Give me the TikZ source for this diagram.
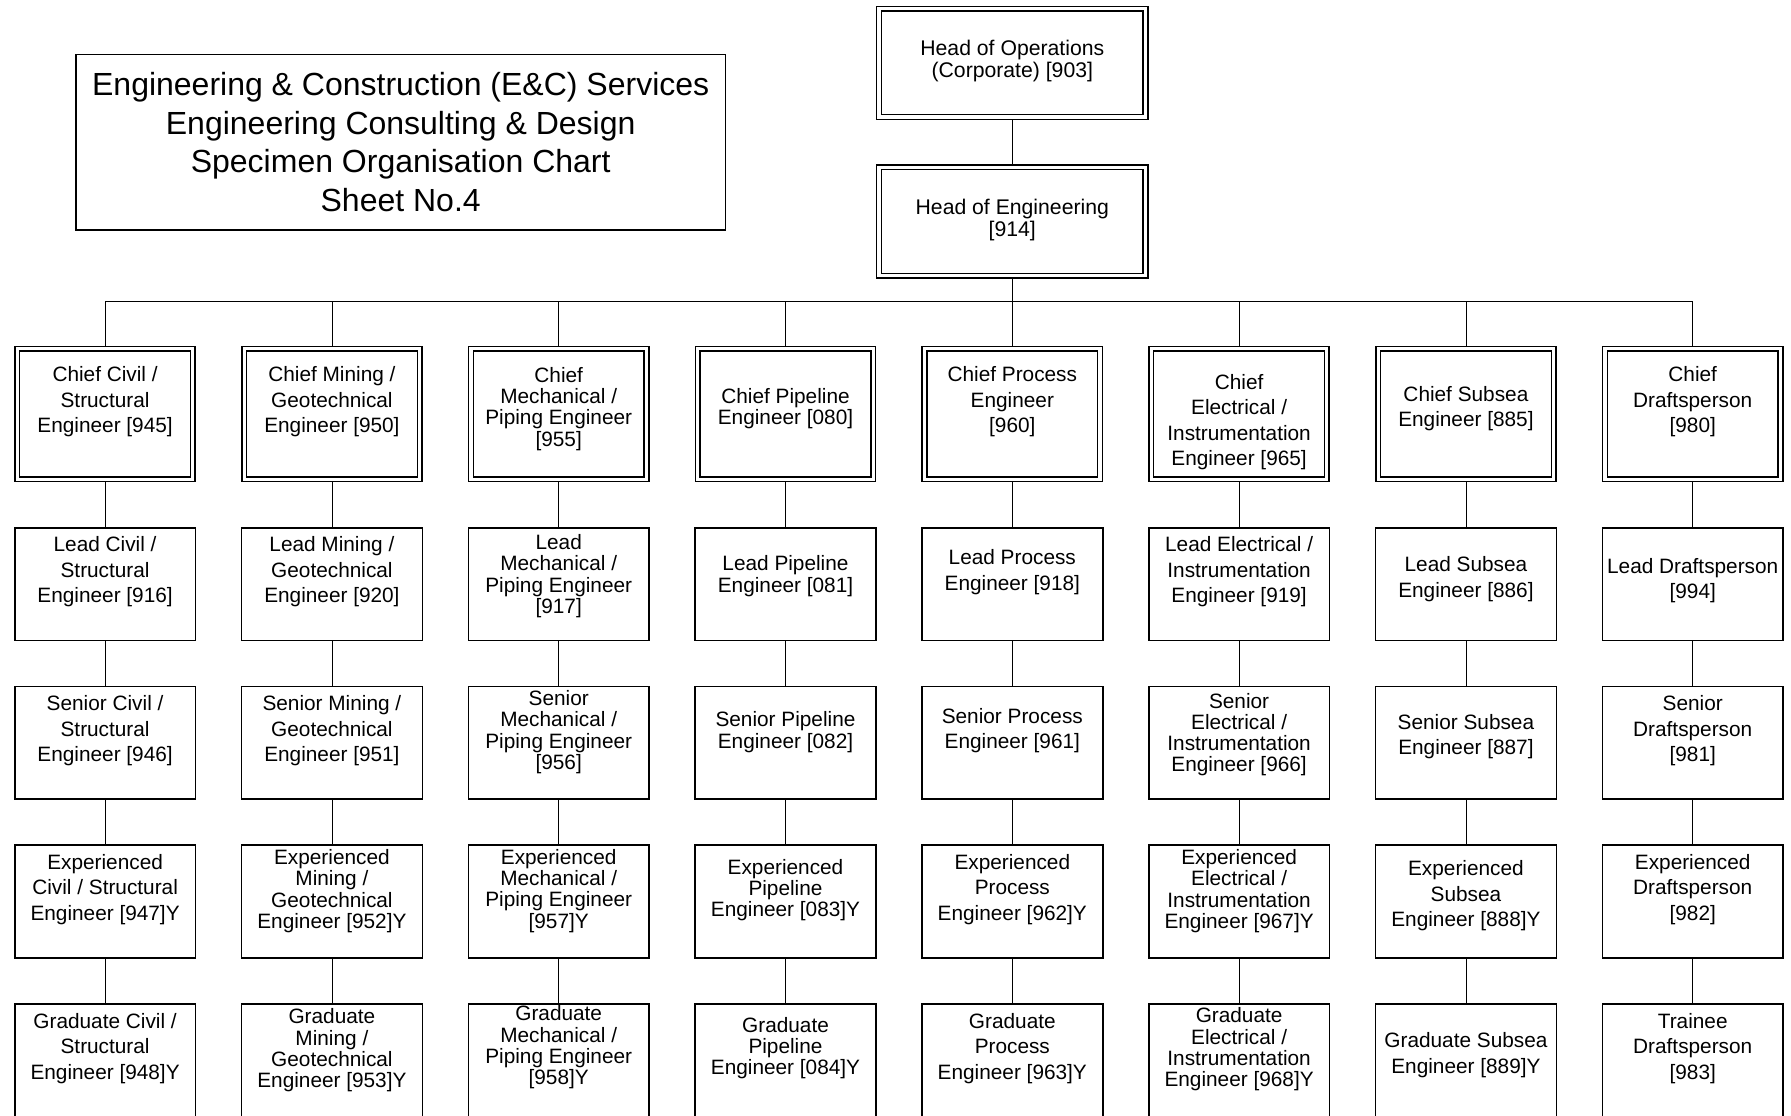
\documentclass[tikz,border=0pt]{standalone}
\usepackage{fontspec}
\setmainfont{Liberation Sans}
\usetikzlibrary{positioning, backgrounds, calc}
\tikzset{
    post/.style={rectangle, draw=black, line width=0.8pt, fill=white,
        minimum width=90.4pt, minimum height=56.4pt, inner xsep=1pt, inner ysep=0pt,
        align=center, text depth=14.35pt, font=\fontsize{10.4}{12.75}\selectfont},
    tight/.style={font=\fontsize{10.4}{10.65}\selectfont},
    chief/.style={post, line width=0.75pt, double=white, double distance=1.6pt,
        minimum width=87.75pt, minimum height=65.25pt},
    head/.style={chief, minimum width=133.25pt, minimum height=54.15pt,
        font=\fontsize{10.6}{10.85}\selectfont},
    lift/.style={text depth=#1},
    sink/.style={text height=#1, text depth=0pt},
    link/.style={line width=0.75pt}
}

\begin{document}
\begin{tikzpicture}[node distance=79.3pt and 113.4pt, on grid]

    \useasboundingbox (0,0) rectangle (895.5pt,-557.5pt);

    \node[draw, line width=0.8pt, minimum width=324.9pt, minimum height=87.85pt, align=center,
        font=\fontsize{16}{19.3}\selectfont] (title) at (200.35pt,-71.1pt)
        {Engineering \& Construction (E\&C) Services\\Engineering Consulting \& Design\\Specimen Organisation Chart\\Sheet No.4};

    \node[head, lift=3.85pt] (ops) at (506.15pt,-31.45pt) {Head of Operations\\(Corporate) [903]};
    \node[head, lift=3.5pt, below=of ops] (eng) {Head of Engineering\\{[914]}};
    \coordinate[below=12.4pt of eng.south] (bus);

    % chief row
    \node[chief, below=96.25pt of eng] (chiefProc) {Chief Process\\Engineer\\{[960]}};
    \node[chief, tight, lift=7.35pt, left=of chiefProc] (chiefPipe) {Chief Pipeline\\Engineer [080]};
    \node[chief, tight, lift=7.35pt, left=of chiefPipe] (chiefMech) {Chief\\Mechanical /\\Piping Engineer\\{[955]}};
    \node[chief, left=of chiefMech] (chiefMin) {Chief Mining /\\Geotechnical\\Engineer [950]};
    \node[chief, left=of chiefMin] (chiefCiv) {Chief Civil /\\Structural\\Engineer [945]};
    \node[chief, sink=51.5pt, right=of chiefProc] (chiefElec) {Chief\\Electrical /\\Instrumentation\\Engineer [965]};
    \node[chief, lift=7.35pt, right=of chiefElec] (chiefSub) {Chief Subsea\\Engineer [885]};
    \node[chief, right=of chiefSub] (chiefDraft) {Chief\\Draftsperson\\{[980]}};

    % lead row
    \node[post, below=85.1pt of chiefCiv] (leadCiv) {Lead Civil /\\Structural\\Engineer [916]};
    \node[post, below=85.1pt of chiefMin] (leadMin) {Lead Mining /\\Geotechnical\\Engineer [920]};
    \node[post, tight, lift=10.35pt, below=85.1pt of chiefMech] (leadMech) {Lead\\Mechanical /\\Piping Engineer\\{[917]}};
    \node[post, tight, lift=10.35pt, below=85.1pt of chiefPipe] (leadPipe) {Lead Pipeline\\Engineer [081]};
    \node[post, below=85.1pt of chiefProc] (leadProc) {Lead Process\\Engineer [918]};
    \node[post, below=85.1pt of chiefElec] (leadElec) {Lead Electrical /\\Instrumentation\\Engineer [919]};
    \node[post, lift=7.35pt, below=85.1pt of chiefSub] (leadSub) {Lead Subsea\\Engineer [886]};
    \node[post, lift=5.85pt, below=85.1pt of chiefDraft] (leadDraft) {Lead Draftsperson\\{[994]}};

    % senior row
    \node[post, below=of leadCiv] (seniorCiv) {Senior Civil /\\Structural\\Engineer [946]};
    \node[post, below=of leadMin] (seniorMin) {Senior Mining /\\Geotechnical\\Engineer [951]};
    \node[post, tight, lift=12.85pt, below=of leadMech] (seniorMech) {Senior\\Mechanical /\\Piping Engineer\\{[956]}};
    \node[post, tight, lift=12.85pt, below=of leadPipe] (seniorPipe) {Senior Pipeline\\Engineer [082]};
    \node[post, below=of leadProc] (seniorProc) {Senior Process\\Engineer [961]};
    \node[post, tight, lift=10.35pt, below=of leadElec] (seniorElec) {Senior\\Electrical /\\Instrumentation\\Engineer [966]};
    \node[post, lift=8.35pt, below=of leadSub] (seniorSub) {Senior Subsea\\Engineer [887]};
    \node[post, below=of leadDraft] (seniorDraft) {Senior\\Draftsperson\\{[981]}};

    % experienced row
    \node[post, below=of seniorCiv] (expCiv) {Experienced\\Civil / Structural\\Engineer [947]Y};
    \node[post, tight, lift=12.35pt, below=of seniorMin] (expMin) {Experienced\\Mining /\\Geotechnical\\Engineer [952]Y};
    \node[post, tight, lift=12.85pt, below=of seniorMech] (expMech) {Experienced\\Mechanical /\\Piping Engineer\\{[957]Y}};
    \node[post, tight, lift=13.35pt, below=of seniorPipe] (expPipe) {Experienced\\Pipeline\\Engineer [083]Y};
    \node[post, below=of seniorProc] (expProc) {Experienced\\Process\\Engineer [962]Y};
    \node[post, tight, lift=12.35pt, below=of seniorElec] (expElec) {Experienced\\Electrical /\\Instrumentation\\Engineer [967]Y};
    \node[post, lift=7.85pt, below=of seniorSub] (expSub) {Experienced\\Subsea\\Engineer [888]Y};
    \node[post, below=of seniorDraft] (expDraft) {Experienced\\Draftsperson\\{[982]}};

    % graduate row
    \node[post, below=79.6pt of expCiv] (gradCiv) {Graduate Civil /\\Structural\\Engineer [948]Y};
    \node[post, tight, lift=12.35pt, below=79.6pt of expMin] (gradMin) {Graduate\\Mining /\\Geotechnical\\Engineer [953]Y};
    \node[post, tight, lift=15.35pt, below=79.6pt of expMech] (gradMech) {Graduate\\Mechanical /\\Piping Engineer\\{[958]Y}};
    \node[post, tight, lift=14.85pt, below=79.6pt of expPipe] (gradPipe) {Graduate\\Pipeline\\Engineer [084]Y};
    \node[post, below=79.6pt of expProc] (gradProc) {Graduate\\Process\\Engineer [963]Y};
    \node[post, tight, lift=13.35pt, below=79.6pt of expElec] (gradElec) {Graduate\\Electrical /\\Instrumentation\\Engineer [968]Y};
    \node[post, lift=7.85pt, below=79.6pt of expSub] (gradSub) {Graduate Subsea\\Engineer [889]Y};
    \node[post, below=79.6pt of expDraft] (gradDraft) {Trainee\\Draftsperson\\{[983]}};

    \begin{scope}[on background layer, link]
        \draw (ops) -- (eng);
        \draw (eng) -- (bus);
        \draw (chiefCiv) |- (bus);
        \draw (chiefMin) |- (bus);
        \draw (chiefMech) |- (bus);
        \draw (chiefPipe) |- (bus);
        \draw (chiefProc) -- (bus);
        \draw (chiefElec) |- (bus);
        \draw (chiefSub) |- (bus);
        \draw (chiefDraft) |- (bus);

        \draw (chiefCiv) -- (leadCiv) -- (seniorCiv) -- (expCiv) -- (gradCiv);
        \draw (chiefMin) -- (leadMin) -- (seniorMin) -- (expMin) -- (gradMin);
        \draw (chiefMech) -- (leadMech) -- (seniorMech) -- (expMech) -- (gradMech);
        \draw (chiefPipe) -- (leadPipe) -- (seniorPipe) -- (expPipe) -- (gradPipe);
        \draw (chiefProc) -- (leadProc) -- (seniorProc) -- (expProc) -- (gradProc);
        \draw (chiefElec) -- (leadElec) -- (seniorElec) -- (expElec) -- (gradElec);
        \draw (chiefSub) -- (leadSub) -- (seniorSub) -- (expSub) -- (gradSub);
        \draw (chiefDraft) -- (leadDraft) -- (seniorDraft) -- (expDraft) -- (gradDraft);
    \end{scope}

\end{tikzpicture}
\end{document}
